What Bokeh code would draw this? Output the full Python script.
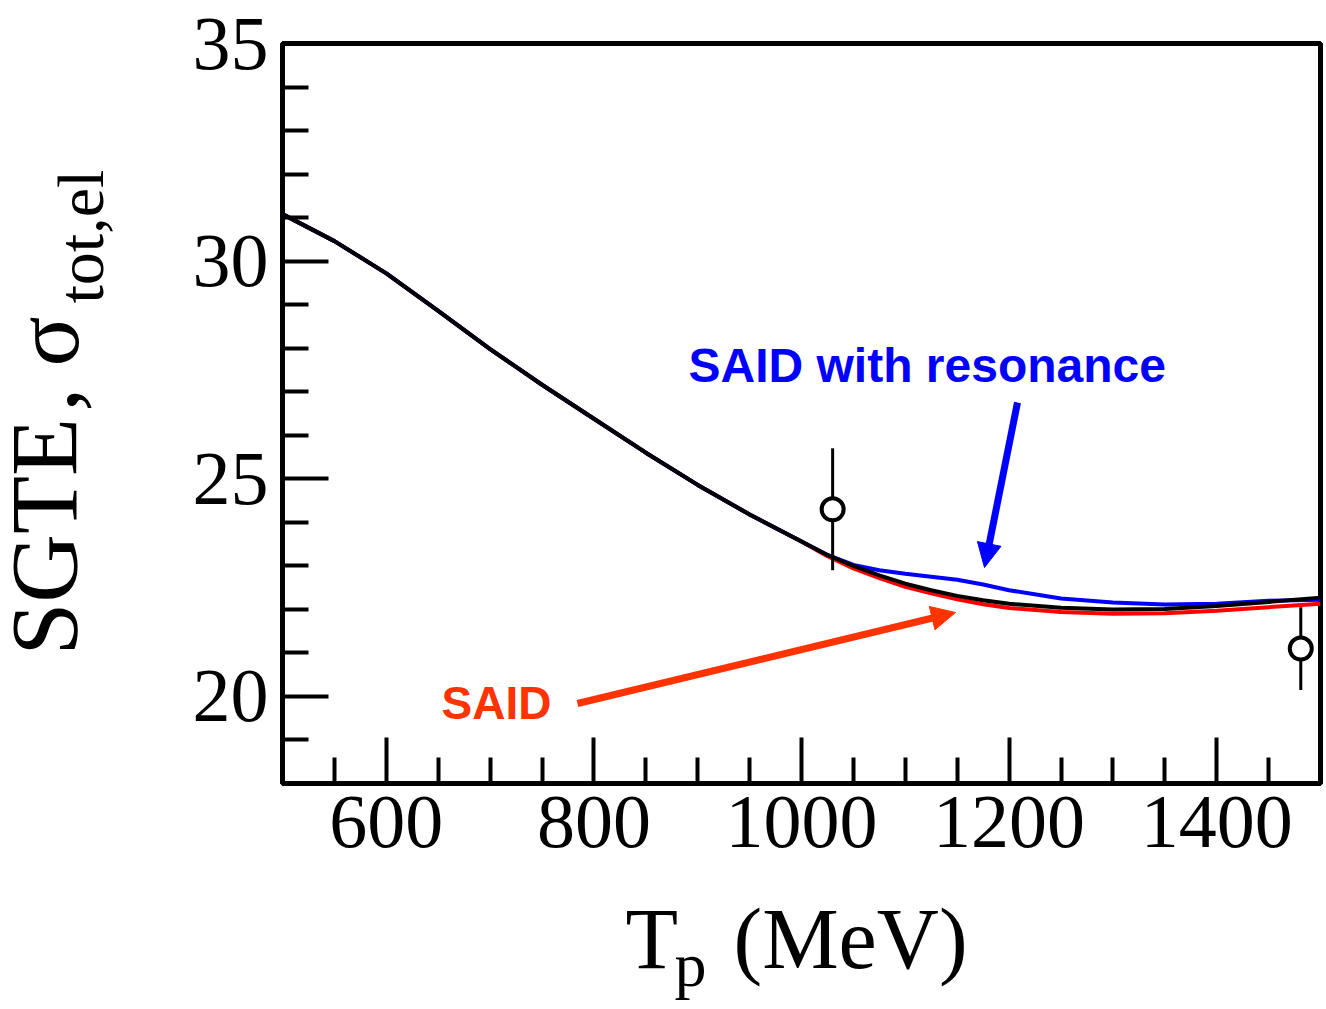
from bokeh.plotting import figure
from bokeh.layouts import column, row
from bokeh.models import (Range1d, FixedTicker, Label, Arrow, NormalHead,
                          ColumnDataSource)
from bokeh.core.properties import value
from bokeh.embed import file_html
from bokeh.resources import INLINE

# Proton kinetic energy grid (MeV)
energy = [500, 550, 600, 650, 700, 750, 800, 850, 900, 950, 1000,
          1025, 1050, 1075, 1100, 1125, 1150, 1175, 1200,
          1250, 1300, 1350, 1400, 1450, 1500]

# Total elastic cross section curves (mb)
sgte_curve = [31.08, 30.46, 29.72, 28.86, 27.98, 27.16, 26.38, 25.60, 24.86, 24.18, 23.56,
              23.25, 23.00, 22.78, 22.59, 22.44, 22.31, 22.21, 22.13,
              22.04, 22.00, 22.01, 22.08, 22.17, 22.27]
said_curve = [31.08, 30.46, 29.72, 28.86, 27.98, 27.16, 26.38, 25.60, 24.86, 24.18, 23.56,
              23.22, 22.94, 22.72, 22.52, 22.37, 22.23, 22.12, 22.03,
              21.94, 21.90, 21.91, 21.97, 22.05, 22.13]
said_res_curve = [31.08, 30.46, 29.72, 28.86, 27.98, 27.16, 26.38, 25.60, 24.86, 24.18, 23.56,
                  23.25, 23.02, 22.90, 22.82, 22.75, 22.68, 22.57, 22.44,
                  22.25, 22.16, 22.11, 22.13, 22.20, 22.22]

# Measured points with uncertainties
meas_energy = [1030, 1481]
meas_sigma = [24.3, 21.1]
meas_err = [1.4, 0.95]

# Axis ticks
x_major = [600, 800, 1000, 1200, 1400]
x_minor = [550, 650, 700, 750, 850, 900, 950, 1050, 1100, 1150,
           1250, 1300, 1350, 1450]
y_major = [20, 25, 30, 35]
y_minor = [18, 19, 21, 22, 23, 24, 26, 27, 28, 29, 31, 32, 33, 34]

# Page geometry (pixels)
W, H = 1326, 1009
TITLE_W = 150          # strip holding the vertical axis title
ROW_H = 880            # height of the plot row
FRAME_L, FRAME_R, FRAME_T, FRAME_B = 282, 1320, 43, 783
X0, X1, Y0, Y1 = 500, 1500, 18, 35

SANS_MID = 0.3465   # half of (ascent - descent) in em, Liberation Sans
SERIF_MID = 0.3375  # same for Liberation Serif
SERIF = "Liberation Serif"
SANS = "Liberation Sans"

# ---------------- main plot ----------------
p = figure(width=W - TITLE_W, height=ROW_H, output_backend="svg", toolbar_location=None,
           x_range=Range1d(X0, X1), y_range=Range1d(Y0, Y1))
p.min_border_left = FRAME_L - TITLE_W
p.min_border_right = W - FRAME_R
p.min_border_top = FRAME_T
p.min_border_bottom = ROW_H - FRAME_B
p.background_fill_color = "white"
p.border_fill_color = "white"
p.outline_line_color = "black"
p.outline_line_width = 5
p.xgrid.visible = False
p.ygrid.visible = False


def xd(px):
    return X0 + (px - FRAME_L) * (X1 - X0) / (FRAME_R - FRAME_L)


def yd(py):
    return Y1 - (py - FRAME_T) * (Y1 - Y0) / (FRAME_B - FRAME_T)


for ax, major, minor in ((p.xaxis, x_major, x_minor), (p.yaxis, y_major, y_minor)):
    ax.ticker = FixedTicker(ticks=major, minor_ticks=minor)
    ax.axis_line_width = 5
    ax.axis_line_color = "black"
    ax.major_tick_in = 46
    ax.major_tick_out = 0
    ax.minor_tick_in = 26
    ax.minor_tick_out = 0
    ax.major_tick_line_width = 4
    ax.minor_tick_line_width = 4
    ax.major_tick_line_color = "black"
    ax.minor_tick_line_color = "black"
    ax.major_label_text_font = SERIF
    ax.major_label_text_font_size = "76px"
    ax.major_label_text_color = "black"

p.xaxis.major_label_standoff = 13
p.yaxis.major_label_standoff = 14

# Curves
p.line(energy, said_curve, line_color="#ff0000", line_width=4)
p.line(energy, said_res_curve, line_color="#0000ff", line_width=4)
p.line(energy, sgte_curve, line_color="black", line_width=4)

# Data points with error bars
src = ColumnDataSource(dict(
    x=meas_energy, y=meas_sigma,
    lo=[v - e for v, e in zip(meas_sigma, meas_err)],
    hi=[v + e for v, e in zip(meas_sigma, meas_err)],
))
p.segment(x0="x", y0="lo", x1="x", y1="hi", source=src, line_color="black", line_width=3)
p.scatter(x="x", y="y", source=src, marker="circle", size=22,
          fill_color="white", line_color="black", line_width=4)


def note(px, base_py, text, size, color):
    p.add_layout(Label(x=xd(px), y=yd(base_py - SANS_MID * size), text=text,
                       text_font=SANS, text_font_size=f"{size}px", text_color=color,
                       text_font_style="bold", text_align="left", text_baseline="middle"))


note(688, 382, "SAID with resonance", 48, "#0000ff")
p.add_layout(Arrow(x_start=xd(1017), y_start=yd(402), x_end=xd(984), y_end=yd(567),
                   line_color="#0000ff", line_width=7,
                   end=NormalHead(size=24, fill_color="#0000ff", line_color="#0000ff", line_width=1)))

note(441, 718, "SAID", 46, "#ff3300")
p.add_layout(Arrow(x_start=xd(577), y_start=yd(703), x_end=xd(955), y_end=yd(612),
                   line_color="#ff3300", line_width=7,
                   end=NormalHead(size=24, fill_color="#ff3300", line_color="#ff3300", line_width=1)))


# ---------------- axis title strips ----------------
def strip(width, height, top=0, bottom=0):
    # data coordinates of a strip are page pixels measured upwards from its bottom edge
    f = figure(width=width, height=height, output_backend="svg", toolbar_location=None,
               x_range=Range1d(0, width), y_range=Range1d(bottom, height - top),
               x_axis_location=None, y_axis_location=None, min_border=0)
    f.min_border_top = top
    f.min_border_bottom = bottom
    f.outline_line_color = None
    f.background_fill_color = "white"
    f.border_fill_color = "white"
    f.xgrid.visible = False
    f.ygrid.visible = False
    return f


# vertical title: SGTE , sigma_tot,el (reads bottom to top); its frame lines up with the plot frame
ytitle = strip(TITLE_W, ROW_H, top=FRAME_T, bottom=ROW_H - FRAME_B)
ang = 3.141592653589793 / 2
for base_px, start_py, txt, size in ((77, 655, "SGTE", 95), (77, 411, ",", 95),
                                     (77, 366, "σ", 93), (102, 303, "tot,el", 66)):
    ytitle.text(x=[base_px - SERIF_MID * size], y=[ROW_H - start_py], text=[txt],
                angle=ang, text_font=value(SERIF), text_font_size=value(f"{size}px"),
                text_color="black", text_align="left", text_baseline="middle")

# horizontal title: T_p (MeV)
xtitle = strip(W, H - ROW_H)
for left_px, base_py, txt, size in ((625, 968, "T", 86), (674, 986, "p", 64),
                                    (733, 968, "(MeV)", 86)):
    xtitle.text(x=[left_px], y=[H - (base_py - SERIF_MID * size)], text=[txt],
                text_font=value(SERIF), text_font_size=value(f"{size}px"),
                text_color="black", text_align="left", text_baseline="middle")

layout = column(row(ytitle, p), xtitle)
open("out.html", "w").write(file_html(layout, INLINE))
